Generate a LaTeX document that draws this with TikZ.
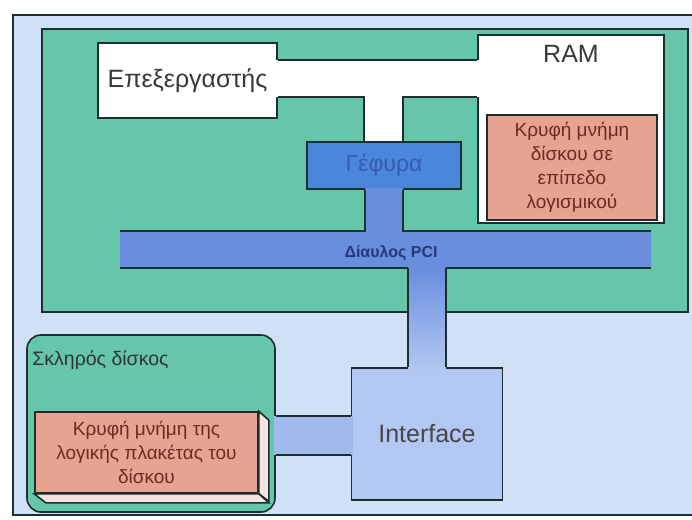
\documentclass[tikz,border=0pt]{standalone}
\usepackage{fontspec}
\setmainfont{Liberation Sans}
\usetikzlibrary{positioning}

\definecolor{casebl}{RGB}{208,224,246}
\definecolor{boardgr}{RGB}{102,198,170}
\definecolor{cachepk}{RGB}{232,162,146}
\definecolor{sidepk}{RGB}{242,228,224}
\definecolor{bridgebl}{RGB}{74,134,218}
\definecolor{busbl}{RGB}{106,142,222}
\definecolor{ifacebl}{RGB}{178,200,242}
\definecolor{linkbl}{RGB}{160,186,238}
\definecolor{edgec}{RGB}{28,46,46}
\definecolor{cachetx}{RGB}{110,42,32}
\definecolor{bridgetx}{RGB}{52,92,178}
\definecolor{bustx}{RGB}{36,56,122}

\begin{document}
\begin{tikzpicture}[x=1pt, y=-1pt, inner sep=0pt,
  part/.style={draw=edgec, line width=1.6pt},
  whitebox/.style={part, fill=white},
  cachebox/.style={part, fill=cachepk, text=cachetx, align=center,
    font=\fontsize{19}{24}\selectfont},
  bigtext/.style={font=\fontsize{25}{30}\selectfont, text=black!78}]

  \clip (0,0) rectangle (692,519);

  % case and main board
  \filldraw[part, fill=casebl] (13,15) rectangle (720,515);
  \filldraw[part, fill=boardgr] (42,29) rectangle (688,312);

  % cpu and ram
  \node[whitebox, bigtext, minimum width=179pt, minimum height=75pt] (cpu) at (187.5,80.5) {Επεξεργαστής};
  \node[whitebox, minimum width=186pt, minimum height=188pt] (ram) at (571,129) {};
  \node[bigtext, below=11pt of ram.north] (ramtxt) {RAM};
  \node[cachebox, minimum width=170pt, minimum height=105pt] (ramcache) at (572,167.5)
    {Κρυφή μνήμη\\δίσκου σε\\επίπεδο\\λογισμικού};

  % memory bus
  \fill[white] (276,60) rectangle (479,97) (364,78) rectangle (403,143);
  \draw[part] (cpu.east |- 0,60) -- (ram.west |- 0,60);
  \draw[part] (cpu.east |- 0,97) -- (364,97) -- (364,143);
  \draw[part] (ram.west |- 0,97) -- (403,97) -- (403,143);

  % bridge and pci bus
  \node[part, fill=bridgebl, text=bridgetx, font=\fontsize{23}{28}\selectfont,
    minimum width=154pt, minimum height=47pt] (bridge) at (384,165.5) {Γέφυρα};
  \fill[busbl] (120,231) rectangle (651,268) (365,188) rectangle (403,232);
  \draw[part] (bridge.south -| 365,0) -- (365,231) -- (120,231);
  \draw[part] (bridge.south -| 403,0) -- (403,231) -- (651,231);
  \draw[part] (120,268) -- (408,268) (446,268) -- (651,268);
  \node[font=\bfseries\fontsize{16}{19}\selectfont, text=bustx] (pcitxt) at (391,253) {Δίαυλος PCI};

  % interface
  \node[part, fill=ifacebl, bigtext, text=black!72, minimum width=151pt, minimum height=132pt] (iface) at (427,434) {Interface};
  \shade[top color=busbl, bottom color=ifacebl] (408,268.8) rectangle (446,369);
  \draw[part] (408,268) -- (iface.north -| 408,0) (446,268) -- (iface.north -| 446,0);

  % hard disk
  \node[part, fill=boardgr, rounded corners=14pt, minimum width=248pt, minimum height=177pt] (hdd) at (151,423.5) {};
  \node[font=\fontsize{19.5}{24}\selectfont, text=black!80, below right=16pt and 6pt of hdd.north west] (hddtxt) {Σκληρός δίσκος};
  \node[cachebox, minimum width=223pt, minimum height=81pt] (hddcache) at (146.5,452.5)
    {Κρυφή μνήμη της\\λογικής πλακέτας του\\δίσκου};
  \filldraw[part, fill=sidepk] (hddcache.north east) -- ++(10,9) -- ++(0,81) -- (hddcache.south east) -- cycle;
  \filldraw[part, fill=sidepk] (hddcache.south west) -- (hddcache.south east) -- ++(10,9) -- ++(-223,0) -- cycle;

  % disk link
  \fill[linkbl] (274,416) rectangle (352.5,455);
  \draw[part] (hdd.east |- 0,416) -- (iface.west |- 0,416) (hdd.east |- 0,455) -- (iface.west |- 0,455);

\end{tikzpicture}
\end{document}
